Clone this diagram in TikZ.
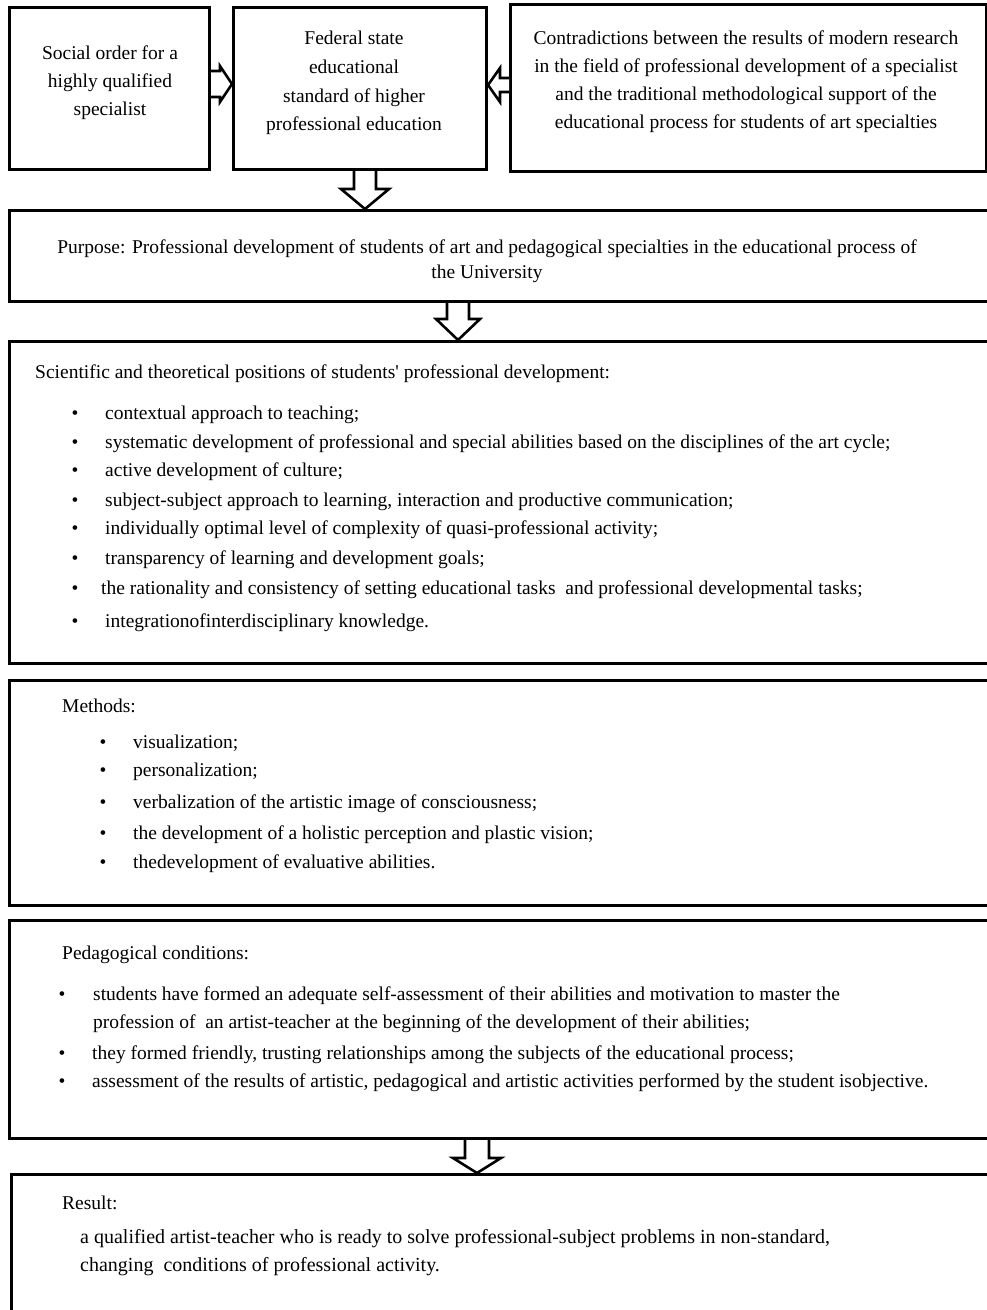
\documentclass[tikz,border=0pt]{standalone}
\usepackage{fontspec}
\setmainfont{Liberation Serif}
\usetikzlibrary{calc}
\tikzset{
  box/.style={draw,line width=3pt,anchor=north west,inner sep=0pt},
  txt/.style={font=\fontsize{19.5}{28}\selectfont,inner sep=0pt,text height=13pt,text depth=4pt,yshift=-2pt},
  ctxt/.style={align=center,inner sep=0pt},
  item/.style={txt,anchor=west},
  dot/.style={txt,anchor=center},
  blockarr/.style={draw,line width=2.6pt,fill=white,line join=miter}
}
% hollow block arrow: tail, tip, shaft half width, head half width, head length (signed)
\newcommand\arrh[5]{%
  \draw[blockarr] ($(#1)+(0,-#3)$) -- ($(#2)+({-(#5)},-#3)$) -- ($(#2)+({-(#5)},-#4)$) -- (#2)
    -- ($(#2)+({-(#5)},#4)$) -- ($(#2)+({-(#5)},#3)$) -- ($(#1)+(0,#3)$);}
\newcommand\arrv[5]{%
  \draw[blockarr] ($(#1)+(-#3,0)$) -- ($(#2)+(-#3,-#5)$) -- ($(#2)+(-#4,-#5)$) -- (#2)
    -- ($(#2)+(#4,-#5)$) -- ($(#2)+(#3,-#5)$) -- ($(#1)+(#3,0)$);}

\begin{document}
\begin{tikzpicture}[x=1pt,y=-1pt]
  \useasboundingbox (0,0) rectangle (987,1310);
  \clip (0,0) rectangle (987,1310);

  % boxes
  \node[box,minimum width=200pt,minimum height=162pt] (social) at (8,6) {};
  \node[box,minimum width=253pt,minimum height=162pt] (fgos) at (232,6) {};
  \node[box,minimum width=476pt,minimum height=167pt] (contra) at (509,3) {};
  \node[box,minimum width=1000pt,minimum height=91pt] (purpose) at (8,209) {};
  \node[box,minimum width=1000pt,minimum height=322pt] (theory) at (8,340) {};
  \node[box,minimum width=1000pt,minimum height=225pt] (methods) at (8,679) {};
  \node[box,minimum width=1000pt,minimum height=218pt] (conds) at (8,919) {};
  \node[box,minimum width=1000pt,minimum height=160pt] (result) at (10,1173) {};

  % top texts
  \node[ctxt,font=\fontsize{19.5}{28}\selectfont] (socialtxt) at (110,83)
    {Social order for a\\highly qualified\\specialist};
  \node[ctxt,font=\fontsize{19.5}{28.7}\selectfont] (fgostxt) at (354,83)
    {Federal state\\educational\\standard of higher\\professional education};
  \node[ctxt,font=\fontsize{19.5}{28}\selectfont] (contratxt) at (746,82)
    {Contradictions between the results of modern research\\in the field of professional development of a specialist\\and the traditional methodological support of the\\educational process for students of art specialties};
  \node[ctxt,font=\fontsize{19.5}{25}\selectfont] (purposetxt) at (487,261)
    {Purpose: Professional development of students of art and pedagogical specialties in the educational process of\\the University};

  % theory
  \node[item] (theoryhead) at (35,372) {Scientific and theoretical positions of students\textquotesingle{} professional development:};
  \foreach \y/\x/\t [count=\i] in {
    413/105/{contextual approach to teaching;},
    442/105/{systematic development of professional and special abilities based on the disciplines of the art cycle;},
    470/105/{active development of culture;},
    500/105/{subject-subject approach to learning, interaction and productive communication;},
    528/105/{individually optimal level of complexity of quasi-professional activity;},
    558/105/{transparency of learning and development goals;},
    588/101/{the rationality and consistency of setting educational tasks\ \ and professional developmental tasks;},
    621/105/{integrationofinterdisciplinary knowledge.}}
  {
    \node[dot] (thb\i) at (75,\y) {\textbullet};
    \node[item] (th\i) at (\x,\y) {\t};
  }

  % methods
  \node[item] (methodshead) at (62,706) {Methods:};
  \foreach \y/\t [count=\i] in {
    742/{visualization;},
    770/{personalization;},
    802/{verbalization of the artistic image of consciousness;},
    833/{the development of a holistic perception and plastic vision;},
    862/{thedevelopment of evaluative abilities.}}
  {
    \node[dot] (meb\i) at (103,\y) {\textbullet};
    \node[item] (me\i) at (133,\y) {\t};
  }

  % conditions
  \node[item] (condshead) at (62,953) {Pedagogical conditions:};
  \node[dot] (cob1) at (62,994) {\textbullet};
  \node[item] (co1) at (93,994) {students have formed an adequate self-assessment of their abilities and motivation to master the};
  \node[item] (co1b) at (93,1022) {profession of\ \ an artist-teacher at the beginning of the development of their abilities;};
  \node[dot] (cob2) at (62,1053) {\textbullet};
  \node[item] (co2) at (92,1053) {they formed friendly, trusting relationships among the subjects of the educational process;};
  \node[dot] (cob3) at (62,1081) {\textbullet};
  \node[item] (co3) at (92,1081) {assessment of the results of artistic, pedagogical and artistic activities performed by the student isobjective.};

  % result
  \node[item] (resulthead) at (62,1203) {Result:};
  \node[item,font=\fontsize{20}{28}\selectfont] (res1) at (80,1237) {a qualified artist-teacher who is ready to solve professional-subject problems in non-standard,};
  \node[item,font=\fontsize{20}{28}\selectfont] (res2) at (80,1265) {changing\ \ conditions of\ professional activity.};

  % arrows
  \coordinate (a1t) at (social.east |- 0,84);
  \coordinate (a1h) at (fgos.west |- 0,84);
  \arrh{a1t}{a1h}{13}{18}{12}
  \coordinate (a2t) at (contra.west |- 0,85);
  \coordinate (a2h) at (fgos.east |- 0,85);
  \arrh{a2t}{a2h}{7}{17}{-12}
  \coordinate (a3t) at (fgos.south -| 365,0);
  \coordinate (a3h) at (purpose.north -| 365,0);
  \arrv{a3t}{a3h}{11}{24}{20}
  \coordinate (a4t) at (purpose.south -| 458,0);
  \coordinate (a4h) at (theory.north -| 458,0);
  \arrv{a4t}{a4h}{11}{22}{21}
  \coordinate (a5t) at (conds.south -| 477,0);
  \coordinate (a5h) at (result.north -| 477,0);
  \arrv{a5t}{a5h}{12}{24}{15}
\end{tikzpicture}
\end{document}
